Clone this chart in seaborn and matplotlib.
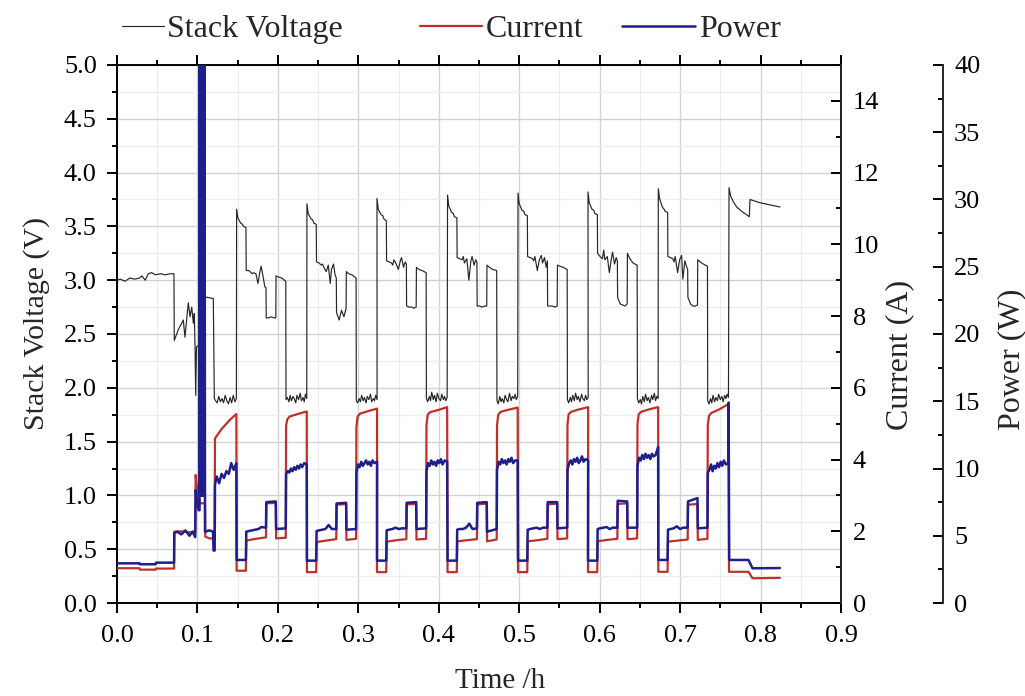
import matplotlib
matplotlib.use("Agg")
import matplotlib.pyplot as plt
import seaborn as sns
import pandas as pd
from matplotlib.ticker import MultipleLocator, FormatStrFormatter
from matplotlib.lines import Line2D

# ---------------- data (time in h) ----------------
# start of each repeating load cycle (voltage jump to its peak)
cycle_t0 = [0.1487, 0.2361, 0.3232, 0.4109, 0.4985, 0.5855, 0.6729]

# Stack voltage (V)
V_pre_t = [0.000, 0.004, 0.010, 0.016, 0.022, 0.028, 0.031, 0.035, 0.039, 0.043, 0.048, 0.054, 0.060, 0.066,
           0.0708, 0.0712, 0.0762, 0.0824, 0.0845, 0.0886, 0.0908, 0.0929, 0.0949, 0.0961, 0.0970, 0.0978, 0.0988,
           0.1032, 0.1050, 0.1197, 0.1210, 0.1225, 0.1245, 0.1265, 0.1285, 0.1305, 0.1325, 0.1345, 0.1365, 0.1385,
           0.1405, 0.1425, 0.1445, 0.1465, 0.1484]
V_pre_v = [3.00, 3.01, 2.99, 3.02, 3.01, 3.02, 3.04, 3.00, 3.06, 3.07, 3.05, 3.06, 3.05, 3.06,
           3.06, 2.44, 2.54, 2.63, 2.47, 2.79, 2.66, 2.75, 2.60, 2.69, 2.38, 1.93, 2.38,
           2.40, 2.85, 2.83, 1.90, 1.88, 1.86, 1.92, 1.87, 1.90, 1.86, 1.93, 1.88, 1.85,
           1.91, 1.86, 1.93, 1.87, 1.90]
V_phase = [0.0000, 0.0015, 0.0050, 0.0072, 0.0085, 0.0116,
           0.0119, 0.0150, 0.0180, 0.0195, 0.0210, 0.0240, 0.0265, 0.0290, 0.0305, 0.0330, 0.0350, 0.0365,
           0.0368, 0.0400, 0.0430, 0.0460, 0.0487,
           0.0490, 0.0520, 0.0560, 0.0611,
           0.0614, 0.0630, 0.0650, 0.0665, 0.0680, 0.0700, 0.0715, 0.0735, 0.0750, 0.0770, 0.0790, 0.0805,
           0.0825, 0.0840, 0.0855, 0.0872]
V_c1 = [3.66, 3.58, 3.53, 3.52, 3.50, 3.49,
        3.09, 3.09, 3.07, 3.06, 3.07, 3.06, 2.97, 3.08, 3.13, 3.03, 2.94, 2.93,
        2.65, 2.65, 2.66, 2.65, 2.65,
        3.04, 3.03, 3.02, 2.99,
        1.89, 1.91, 1.87, 1.93, 1.88, 1.92, 1.90, 1.86, 1.93, 1.89, 1.95, 1.88, 1.91, 1.87, 1.94, 1.90]
V_c2 = [3.71, 3.62, 3.57, 3.56, 3.53, 3.52,
        3.17, 3.16, 3.14, 3.15, 3.12, 3.08, 3.14, 2.97, 3.10, 3.15, 3.05, 3.02,
        2.70, 2.63, 2.72, 2.66, 2.74,
        3.08, 3.06, 3.05, 3.02,
        1.88, 1.86, 1.90, 1.87, 1.93, 1.88, 1.91, 1.86, 1.92, 1.89, 1.94, 1.87, 1.90, 1.88, 1.93, 1.89]
V_c3 = [3.76, 3.66, 3.61, 3.60, 3.57, 3.55,
        3.18, 3.17, 3.16, 3.14, 3.19, 3.15, 3.10, 3.18, 3.21, 3.12, 3.17, 3.15,
        2.76, 2.75, 2.75, 2.74, 2.75,
        3.12, 3.10, 3.09, 3.07,
        1.90, 1.87, 1.92, 1.88, 1.96, 1.89, 1.93, 1.87, 1.95, 1.90, 1.88, 1.94, 1.89, 1.92, 1.88, 1.91]
V_c4 = [3.79, 3.69, 3.63, 3.62, 3.59, 3.58,
        3.21, 3.20, 3.19, 3.22, 3.16, 3.20, 3.00, 3.18, 3.22, 3.14, 3.19, 3.17,
        2.76, 2.76, 2.75, 2.76, 2.76,
        3.14, 3.12, 3.10, 3.09,
        1.88, 1.85, 1.92, 1.87, 1.90, 1.86, 1.93, 1.89, 1.87, 1.95, 1.88, 1.92, 1.90, 1.94, 1.89, 1.92]
V_c5 = [3.81, 3.71, 3.65, 3.64, 3.61, 3.60,
        3.22, 3.21, 3.20, 3.18, 3.22, 3.09, 3.19, 3.23, 3.16, 3.21, 3.12, 3.18,
        2.76, 2.76, 2.76, 2.75, 2.76,
        3.14, 3.13, 3.12, 3.10,
        1.89, 1.86, 1.91, 1.87, 1.93, 1.88, 1.95, 1.89, 1.92, 1.87, 1.94, 1.90, 1.88, 1.93, 1.89, 1.91]
V_c6 = [3.82, 3.72, 3.66, 3.65, 3.62, 3.61,
        3.25, 3.22, 3.20, 3.28, 3.19, 3.22, 3.07, 3.20, 3.26, 3.15, 3.21, 3.18,
        2.84, 2.78, 2.77, 2.76, 2.78,
        3.25, 3.20, 3.16, 3.14,
        1.90, 1.86, 1.89, 1.85, 1.92, 1.87, 1.94, 1.88, 1.91, 1.86, 1.93, 1.89, 1.95, 1.88, 1.92, 1.90]
V_c7 = [3.85, 3.76, 3.68, 3.66, 3.64, 3.63,
        3.22, 3.21, 3.20, 3.17, 3.22, 3.07, 3.19, 3.23, 3.01, 3.18, 3.13, 3.10,
        2.84, 2.78, 2.76, 2.76, 2.77,
        3.19, 3.17, 3.15, 3.13,
        1.88, 1.85, 1.90, 1.86, 1.93, 1.87, 1.91, 1.88, 1.94, 1.89, 1.92, 1.87, 1.93, 1.90, 1.94, 1.91]
V_tail_t = [0.7608, 0.7629, 0.7661, 0.7704, 0.7766, 0.7860, 0.7869, 0.7993, 0.8242]
V_tail_v = [3.86, 3.78, 3.73, 3.68, 3.64, 3.59, 3.75, 3.72, 3.68]

# Current (A)
I_pre_t = [0.000, 0.0280, 0.0285, 0.0480, 0.0485, 0.0709, 0.0712, 0.0800, 0.0900, 0.0972, 0.0978, 0.0990,
           0.1010, 0.1030, 0.1094, 0.1098, 0.1150, 0.1214, 0.1218, 0.1300, 0.1400, 0.1484]
I_pre_v = [0.97, 0.97, 0.93, 0.93, 0.96, 0.96, 1.99, 2.00, 1.97, 2.00, 3.57, 3.30,
           3.00, 2.78, 2.78, 1.85, 1.80, 1.80, 4.59, 4.85, 5.10, 5.27]
I_phase = [0.0000, 0.0115, 0.0120, 0.0240, 0.0365, 0.0369, 0.0487, 0.0491, 0.0611, 0.0615, 0.0630, 0.0660,
           0.0760, 0.0872]
I_c1 = [0.90, 0.90, 1.74, 1.79, 1.83, 2.78, 2.79, 1.80, 1.82, 4.95, 5.12, 5.20, 5.27, 5.34]
I_c2 = [0.86, 0.86, 1.70, 1.74, 1.78, 2.74, 2.76, 1.76, 1.79, 4.90, 5.20, 5.28, 5.35, 5.42]
I_c3 = [0.86, 0.86, 1.71, 1.75, 1.78, 2.75, 2.76, 1.77, 1.79, 4.95, 5.25, 5.32, 5.38, 5.46]
I_c4 = [0.86, 0.86, 1.72, 1.75, 1.78, 2.75, 2.77, 1.72, 1.77, 4.95, 5.25, 5.33, 5.39, 5.45]
I_c5 = [0.86, 0.86, 1.72, 1.75, 1.79, 2.75, 2.77, 1.78, 1.80, 4.98, 5.27, 5.33, 5.40, 5.46]
I_c6 = [0.86, 0.86, 1.72, 1.76, 1.79, 2.76, 2.78, 1.78, 1.80, 4.98, 5.26, 5.33, 5.40, 5.46]
I_c7 = [0.87, 0.87, 1.71, 1.74, 1.77, 2.74, 2.76, 1.76, 1.79, 4.95, 5.22, 5.30, 5.40, 5.55]
I_tail_t = [0.7608, 0.7850, 0.7900, 0.8240]
I_tail_v = [0.87, 0.87, 0.69, 0.70]

# Power (W)
P_pre_t = [0.000, 0.0280, 0.0285, 0.0480, 0.0485, 0.0709, 0.0712, 0.0750, 0.0800, 0.0850, 0.0900, 0.0940,
           0.0972, 0.0978, 0.0995, 0.1015, 0.1026,
           0.1027, 0.1032, 0.1037, 0.1042, 0.1047, 0.1052, 0.1057, 0.1062, 0.1067, 0.1072, 0.1077, 0.1082, 0.1087,
           0.1094, 0.1150, 0.1194, 0.1200, 0.1214, 0.1218, 0.1240, 0.1270, 0.1300, 0.1330, 0.1360, 0.1390,
           0.1420, 0.1450, 0.1484]
P_pre_v = [2.95, 2.95, 2.88, 2.88, 3.00, 3.00, 5.20, 5.30, 5.10, 5.40, 5.00, 5.30,
           4.90, 8.40, 7.60, 6.90, 6.90,
           45, 8, 45, 8, 45, 8, 45, 8, 45, 8, 45, 8, 45,
           5.30, 5.40, 5.30, 3.90, 3.90, 8.80, 9.40, 8.90, 9.60, 9.30, 9.80, 9.60,
           10.40, 9.90, 10.40]
P_phase = [0.0000, 0.0115, 0.0120, 0.0150, 0.0190, 0.0230, 0.0270, 0.0310, 0.0365, 0.0369, 0.0487, 0.0491,
           0.0611, 0.0615, 0.0635, 0.0655, 0.0675, 0.0695, 0.0715, 0.0735, 0.0755, 0.0775, 0.0795, 0.0815,
           0.0840, 0.0872]
P_c1 = [3.2, 3.2, 5.3, 5.35, 5.4, 5.45, 5.5, 5.65, 5.6, 7.5, 7.55, 5.5, 5.55,
        9.6, 9.8, 9.7, 10.0, 9.8, 10.1, 9.9, 10.2, 10.0, 10.3, 10.1, 10.4, 10.3]
P_c2 = [3.15, 3.15, 5.35, 5.4, 5.45, 5.5, 5.8, 5.5, 5.5, 7.4, 7.45, 5.45, 5.5,
        9.7, 10.3, 10.1, 10.5, 10.2, 10.4, 10.6, 10.3, 10.5, 10.2, 10.6, 10.4, 10.5]
P_c3 = [3.15, 3.15, 5.4, 5.45, 5.5, 5.6, 5.5, 5.55, 5.55, 7.45, 7.5, 5.5, 5.55,
        9.8, 10.4, 10.2, 10.6, 10.3, 10.5, 10.2, 10.6, 10.4, 10.7, 10.3, 10.6, 10.5]
P_c4 = [3.15, 3.15, 5.45, 5.5, 5.5, 5.6, 5.9, 5.5, 5.55, 7.45, 7.5, 5.3, 5.5,
        9.9, 10.5, 10.3, 10.7, 10.4, 10.6, 10.3, 10.7, 10.5, 10.8, 10.4, 10.6, 10.6]
P_c5 = [3.15, 3.15, 5.45, 5.5, 5.55, 5.6, 5.5, 5.6, 5.6, 7.5, 7.5, 5.55, 5.6,
        9.9, 10.4, 10.6, 10.3, 10.7, 10.5, 10.8, 10.4, 10.6, 10.9, 10.5, 10.7, 10.6]
P_c6 = [3.15, 3.15, 5.5, 5.55, 5.6, 5.65, 5.5, 5.6, 5.6, 7.6, 7.55, 5.6, 5.6,
        10.2, 10.8, 10.6, 11.0, 10.7, 11.1, 10.8, 11.0, 10.7, 11.1, 10.9, 11.0, 11.6]
P_c7 = [3.2, 3.2, 5.45, 5.5, 5.55, 5.7, 5.5, 5.6, 5.6, 7.55, 7.8, 5.55, 5.6,
        9.7, 9.9, 10.3, 9.8, 10.2, 10.0, 10.4, 10.1, 10.5, 10.2, 10.6, 10.3, 10.4]
P_tail_t = [0.7603, 0.7610, 0.7850, 0.7900, 0.8240]
P_tail_v = [14.9, 3.2, 3.2, 2.58, 2.60]

x_ticks = [0.0, 0.1, 0.2, 0.3, 0.4, 0.5, 0.6, 0.7, 0.8, 0.9]
series_names = ["Stack Voltage", "Current", "Power"]


def build(pre_t, pre_v, phase, rows, tail_t, tail_v):
    t, v = list(pre_t), list(pre_v)
    for t0, row in zip(cycle_t0, rows):
        t += [t0 + o for o in phase]
        v += list(row)
    t += list(tail_t)
    v += list(tail_v)
    return pd.DataFrame({"t": t, "v": v})


dfV = build(V_pre_t, V_pre_v, V_phase, [V_c1, V_c2, V_c3, V_c4, V_c5, V_c6, V_c7], V_tail_t, V_tail_v)
dfI = build(I_pre_t, I_pre_v, I_phase, [I_c1, I_c2, I_c3, I_c4, I_c5, I_c6, I_c7], I_tail_t, I_tail_v)
dfP = build(P_pre_t, P_pre_v, P_phase, [P_c1, P_c2, P_c3, P_c4, P_c5, P_c6, P_c7], P_tail_t, P_tail_v)

# ---------------- style ----------------
sns.set_style("white")
plt.rcParams["font.family"] = ["Liberation Serif", "DejaVu Serif"]
plt.rcParams["axes.linewidth"] = 1.4

c_V = "#262626"
c_I = "#C0302A"
c_P = "#1E1E8C"

fig = plt.figure(figsize=(10.25, 6.96), dpi=100)
ax = fig.add_axes([0.11415, 0.13362, 0.70634, 0.77299])
axI = ax.twinx()
axP = ax.twinx()
axP.spines["right"].set_position(("outward", 73.4))

sns.lineplot(data=dfV, x="t", y="v", ax=ax, color=c_V, lw=0.85, sort=False, estimator=None)
sns.lineplot(data=dfI, x="t", y="v", ax=axI, color=c_I, lw=1.6, sort=False, estimator=None)
sns.lineplot(data=dfP, x="t", y="v", ax=axP, color=c_P, lw=1.8, sort=False, estimator=None)

# main axes
ax.set_xlim(0, 0.9)
ax.set_ylim(0, 5)
ax.set_xticks(x_ticks)
ax.xaxis.set_minor_locator(MultipleLocator(0.05))
ax.yaxis.set_major_locator(MultipleLocator(0.5))
ax.yaxis.set_minor_locator(MultipleLocator(0.25))
ax.xaxis.set_major_formatter(FormatStrFormatter("%.1f"))
ax.yaxis.set_major_formatter(FormatStrFormatter("%.1f"))
ax.grid(which="major", color="#d2d2d2", lw=1.0)
ax.grid(which="minor", color="#ececec", lw=0.8)
ax.set_axisbelow(True)
for s in ax.spines.values():
    s.set_visible(True)
    s.set_linewidth(1.4)
    s.set_color("black")
ax.tick_params(axis="both", which="both", direction="out", width=1.4, colors="black",
               labelsize=19, top=True, bottom=True, left=True, right=False)
ax.tick_params(which="major", length=7.5)
ax.tick_params(which="minor", length=3.8)
ax.tick_params(axis="x", labeltop=False, pad=8)
ax.tick_params(axis="y", pad=7)

# current axis
axI.set_ylim(0, 15)
axI.yaxis.set_major_locator(MultipleLocator(2))
axI.yaxis.set_minor_locator(MultipleLocator(1))
axI.tick_params(axis="y", which="both", direction="in", width=1.4, labelsize=19, pad=8.5, colors="black")
axI.tick_params(which="major", length=7.5)
axI.tick_params(which="minor", length=3.8)
for k in ["left", "top", "bottom"]:
    axI.spines[k].set_visible(False)
axI.spines["right"].set_linewidth(1.4)

# power axis
axP.set_ylim(0, 40)
axP.yaxis.set_major_locator(MultipleLocator(5))
axP.yaxis.set_minor_locator(MultipleLocator(2.5))
axP.tick_params(axis="y", which="both", direction="in", width=1.4, labelsize=19, pad=8, colors="black")
axP.tick_params(which="major", length=7.5)
axP.tick_params(which="minor", length=3.8)
for k in ["left", "top", "bottom"]:
    axP.spines[k].set_visible(False)
axP.spines["right"].set_linewidth(1.4)

# labels
ax.set_xlabel("Time /h", fontsize=21)
ax.xaxis.set_label_coords(0.529, -0.12)
ax.set_ylabel("Stack Voltage (V)", fontsize=21.5)
ax.yaxis.set_label_coords(-0.0925, 0.3216)
ax.yaxis.label.set_ha("left")
axI.set_ylabel("Current (A)", fontsize=23)
axI.yaxis.set_label_coords(1.0608, 0.3216)
axI.yaxis.label.set_ha("left")
axP.set_ylabel("Power (W)", fontsize=23)
axP.yaxis.set_label_coords(1.2155, 0.3216)
axP.yaxis.label.set_ha("left")

# legend: three entries across the top, each with its own handle length
legend_specs = [(c_V, 0.85, 0.1190, 1.30), (c_I, 1.6, 0.4098, 1.95), (c_P, 1.8, 0.6068, 2.30)]
for name, (col, lw, xpos, hl) in zip(series_names, legend_specs):
    lg = fig.legend([Line2D([], [], color=col, lw=lw)], [name], loc="center left",
                    bbox_to_anchor=(xpos, 0.958), frameon=False, fontsize=23,
                    handlelength=hl, handletextpad=0.12, borderpad=0, borderaxespad=0)

fig.savefig("out.png", dpi=100)
